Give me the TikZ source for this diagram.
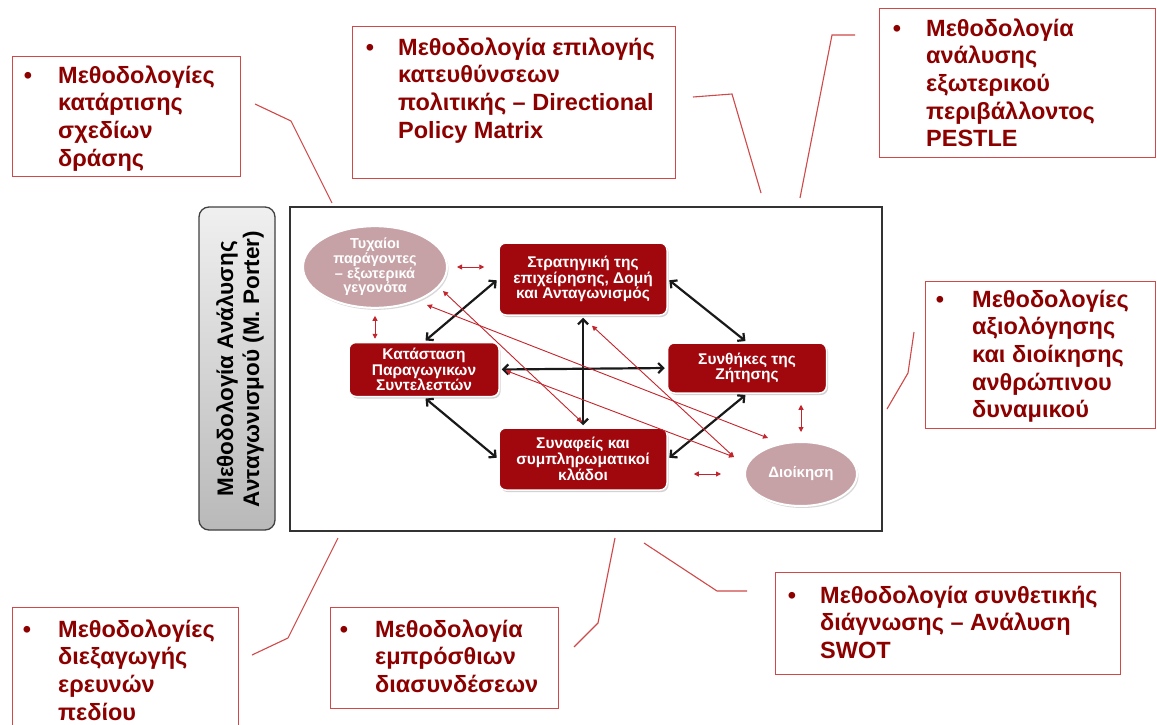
\documentclass[tikz,border=0pt]{standalone}
\usepackage{fontspec}
\setmainfont{Liberation Sans}
\usetikzlibrary{arrows.meta,shadows,shapes.geometric,calc}
\definecolor{callred}{RGB}{208,72,72}
\definecolor{calltxtc}{RGB}{140,0,0}
\definecolor{boxred}{RGB}{160,8,14}
\definecolor{ellfill}{RGB}{198,162,166}
\definecolor{redarr}{RGB}{196,36,44}
\begin{document}
\begin{tikzpicture}[x=1pt,y=-1pt,
  callbox/.style={draw=callred,line width=1.4pt,anchor=north west,inner sep=0},
  calltxt/.style={anchor=north west,inner sep=0,align=left,text=calltxtc,font=\bfseries\fontsize{23.5}{27.7}\selectfont},
  callline/.style={draw=callred,line width=1.1pt},
  redbox/.style={rectangle,rounded corners=7pt,fill=boxred,draw=white,line width=1.5pt,
    drop shadow={shadow xshift=1.5pt,shadow yshift=-2pt,fill=black!35},
    text=white,align=center,inner sep=0,font=\bfseries\fontsize{15.5}{15.5}\selectfont},
  ellnode/.style={ellipse,fill=ellfill,draw=white,line width=2pt,
    drop shadow={shadow xshift=1.5pt,shadow yshift=-2pt,fill=black!30},
    text=white,align=center,inner sep=0},
  blk/.style={draw=black!90,line width=2.2pt,{Straight Barb[length=5pt,width=10pt]}-{Straight Barb[length=5pt,width=10pt]},shorten <=2pt,shorten >=2pt},
  rarr/.style={draw=redarr,line width=0.9pt,{Triangle[length=5pt,width=5pt]}-{Triangle[length=5pt,width=5pt]}}
]
\useasboundingbox (0,0) rectangle (1157,725);
\fill[white] (0,0) rectangle (1157,725);

% callout boxes
\node[callbox,minimum width=228pt,minimum height=120pt] (c1) at (12,56) {};
\node[calltxt] (c1t) at (58,63.6) {\strut\llap{•\hspace{26pt}}Μεθοδολογίες\\κατάρτισης\\σχεδίων\\δράσης};
\node[callbox,minimum width=323pt,minimum height=152pt] (c2) at (352,26) {};
\node[calltxt] (c2t) at (398,35.6) {\strut\llap{•\hspace{24pt}}Μεθοδολογία επιλογής\\κατευθύνσεων\\πολιτικής – Directional\\Policy Matrix};
\node[callbox,minimum width=276pt,minimum height=149pt] (c3) at (879,8) {};
\node[calltxt] (c3t) at (926,16.6) {\strut\llap{•\hspace{25pt}}Μεθοδολογία\\ανάλυσης\\εξωτερικού\\περιβάλλοντος\\PESTLE};
\node[callbox,minimum width=230pt,minimum height=147pt] (c4) at (925,281) {};
\node[calltxt] (c4t) at (972,287.6) {\strut\llap{•\hspace{28pt}}Μεθοδολογίες\\αξιολόγησης\\και διοίκησης\\ανθρώπινου\\δυναμικού};
\node[callbox,minimum width=226pt,minimum height=130pt] (c5) at (12,607) {};
\node[calltxt] (c5t) at (58,617.6) {\strut\llap{•\hspace{27pt}}Μεθοδολογίες\\διεξαγωγής\\ερευνών\\πεδίου};
\node[callbox,minimum width=228pt,minimum height=101pt] (c6) at (330,607) {};
\node[calltxt] (c6t) at (375,617.6) {\strut\llap{•\hspace{27pt}}Μεθοδολογία\\εμπρόσθιων\\διασυνδέσεων};
\node[callbox,minimum width=345pt,minimum height=102pt] (c7) at (775,572) {};
\node[calltxt] (c7t) at (820,583.6) {\strut\llap{•\hspace{24pt}}Μεθοδολογία συνθετικής\\διάγνωσης – Ανάλυση\\SWOT};

% callout connectors
\coordinate (l1a) at (255,104); \coordinate (l1b) at (291,121); \coordinate (l1c) at (332,203);
\coordinate (l2a) at (693,97);  \coordinate (l2b) at (732,94);  \coordinate (l2c) at (761,193);
\coordinate (l3a) at (855,35);  \coordinate (l3b) at (832,35);  \coordinate (l3c) at (800,198);
\coordinate (l4a) at (914,332); \coordinate (l4b) at (908,373); \coordinate (l4c) at (887,409);
\coordinate (l5a) at (338,538); \coordinate (l5b) at (288,638); \coordinate (l5c) at (252,655);
\coordinate (l6a) at (615,538); \coordinate (l6b) at (598,623); \coordinate (l6c) at (574,647);
\coordinate (l7a) at (644,543); \coordinate (l7b) at (717,591); \coordinate (l7c) at (747,591);
\draw[callline] (l1a) -- (l1b) -- (l1c);
\draw[callline] (l2a) -- (l2b) -- (l2c);
\draw[callline] (l3a) -- (l3b) -- (l3c);
\draw[callline] (l4a) -- (l4b) -- (l4c);
\draw[callline] (l5a) -- (l5b) -- (l5c);
\draw[callline] (l6a) -- (l6b) -- (l6c);
\draw[callline] (l7a) -- (l7b) -- (l7c);

% vertical label
\node[draw=black!75,line width=1.3pt,rounded corners=10pt,top color=gray!12,bottom color=gray!55,
  minimum width=76pt,minimum height=323pt,inner sep=0] (lblbox) at (237,368.5) {};
\node[rotate=90,align=center,inner sep=0,font=\bfseries\fontsize{22.5}{26}\selectfont] (lbltxt) at (240,369)
  {Μεθοδολογία Ανάλυσης\\Ανταγωνισμού (M. Porter)};

% frame
\node[draw=black!80,line width=1.2pt,minimum width=592pt,minimum height=324pt,inner sep=0] (frame) at (586,369) {};

% inner nodes
\node[ellnode,minimum width=144pt,minimum height=74pt,font=\bfseries\fontsize{14.5}{13.5}\selectfont] (ell) at (375,267)
  {Τυχαίοι\\παράγοντες\\– εξωτερικά\\γεγονότα};
\node[redbox,minimum width=168pt,minimum height=72pt] (strat) at (583,279)
  {Στρατηγική της\\επιχείρησης, Δομή\\και Ανταγωνισμός};
\node[redbox,minimum width=150pt,minimum height=54pt] (kat) at (424,369.5)
  {Κατάσταση\\Παραγωγικων\\Συντελεστών};
\node[redbox,minimum width=159pt,minimum height=50pt] (synth) at (747,368)
  {Συνθήκες της\\Ζήτησης};
\node[redbox,minimum width=168pt,minimum height=62pt,font=\bfseries\fontsize{15.5}{14.5}\selectfont] (syn) at (583,459)
  {Συναφείς και\\συμπληρωματικοί\\κλάδοι};
\node[ellnode,minimum width=112pt,minimum height=64pt,font=\bfseries\fontsize{15}{15}\selectfont] (dioik) at (801,474)
  {Διοίκηση};

% black arrows
\draw[blk] (strat.west) -- (kat.north);
\draw[blk] (strat.east) -- (synth.north);
\draw[blk] (strat.south) -- (syn.north);
\draw[blk] (kat.east) -- (synth.west);
\draw[blk] (kat.south) -- (syn.west);
\draw[blk] (synth.south) -- (syn.east);

% red arrows
\draw[rarr] ($(ell.east)+(9,0)$) -- ($(strat.west |- ell.east)+(-14,0)$);
\draw[rarr] ($(ell.south)+(0,7)$) -- ($(ell.south |- kat.north)+(0,-3)$);
\draw[rarr] ($(dioik.north |- synth.south)+(0,11)$) -- ($(dioik.north)+(0,-9)$);
\draw[rarr] ($(syn.east |- dioik.west)+(26,0)$) -- ($(dioik.west)+(-23,0)$);
\draw[rarr] ($(ell.center)+(68,24)$) -- ($(syn.north)+(-1,-5)$);
\draw[rarr] ($(ell.center)+(52,38)$) -- ($(dioik.center)+(-33,-36)$);
\draw[rarr] ($(kat.east)+(6,1)$) -- ($(dioik.center)+(-67,-17)$);
\draw[rarr] ($(strat.south)+(9,10)$) -- ($(dioik.center)+(-67,-17)$);
\end{tikzpicture}
\end{document}
